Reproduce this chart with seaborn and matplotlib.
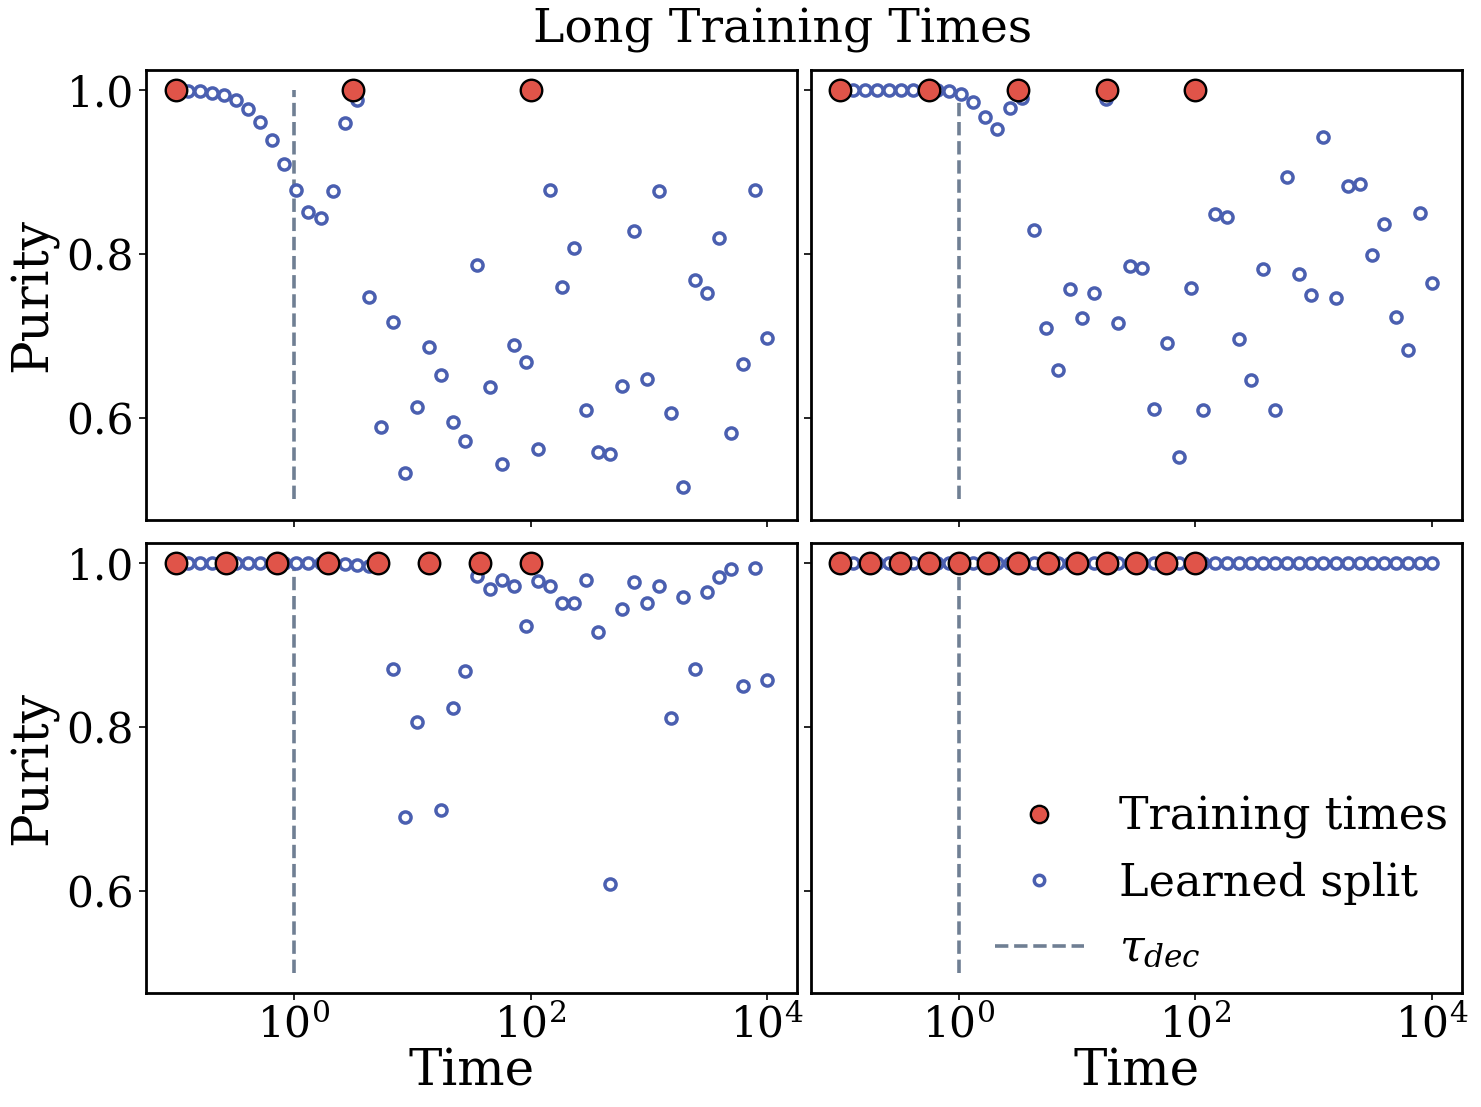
import numpy as np
import pandas as pd
import matplotlib
matplotlib.use("Agg")
import matplotlib.pyplot as plt
import seaborn as sns
from matplotlib.lines import Line2D

# ---------------- data ----------------
split_times = np.logspace(-1, 4, 50)

purity_a = [1.0, 0.9996, 0.9985, 0.997, 0.994, 0.988, 0.977, 0.9615, 0.9395, 0.910,
            0.878, 0.851, 0.844, 0.877, 0.960, 0.9875, 0.747, 0.5886, 0.7166, 0.532,
            0.6127, 0.686, 0.652, 0.5944, 0.5715, 0.786, 0.637, 0.543, 0.6885, 0.668,
            0.5614, 0.878, 0.7594, 0.807, 0.609, 0.5577, 0.5553, 0.6384, 0.828, 0.647,
            0.8768, 0.6057, 0.515, 0.768, 0.752, 0.819, 0.581, 0.665, 0.878, 0.697]

purity_b = [1.0, 1.0, 1.0, 1.0, 1.0, 1.0, 1.0, 1.0, 1.0, 0.9985,
            0.9953, 0.9856, 0.967, 0.953, 0.978, 0.991, 0.829, 0.709, 0.658, 0.757,
            0.7215, 0.752, 0.9888, 0.7154, 0.785, 0.7826, 0.610, 0.691, 0.552, 0.758,
            0.609, 0.849, 0.8454, 0.696, 0.646, 0.7814, 0.609, 0.894, 0.7753, 0.7496,
            0.9428, 0.746, 0.883, 0.8853, 0.7985, 0.8364, 0.7227, 0.6824, 0.850, 0.7643]

purity_c = [1.0, 1.0, 1.0, 1.0, 1.0, 1.0, 1.0, 1.0, 1.0, 1.0,
            1.0, 1.0, 1.0, 1.0, 0.999, 0.998, 0.997, 1.0, 0.8704, 0.6895,
            0.8056, 1.0, 0.698, 0.823, 0.869, 0.985, 0.9686, 0.9796, 0.9722, 0.923,
            0.978, 0.9722, 0.951, 0.951, 0.9796, 0.9156, 0.6076, 0.944, 0.9768, 0.951,
            0.9722, 0.8105, 0.9584, 0.8704, 0.9645, 0.983, 0.9927, 0.8496, 0.9939, 0.857]

purity_d = [1.0] * 50

train_a = [0.1, 3.162, 100.0]
train_b = [0.1, 0.5623, 3.162, 17.78, 100.0]
train_c = [0.1, 0.2683, 0.7197, 1.931, 5.179, 13.89, 37.28, 100.0]
train_d = [0.1, 0.1778, 0.3162, 0.5623, 1.0, 1.778, 3.162, 5.623, 10.0,
           17.78, 31.62, 56.23, 100.0]
train_purity = 1.0

tau_dec = 1.0
tau_ymin, tau_ymax = 0.5, 1.0

panels = [(purity_a, train_a), (purity_b, train_b),
          (purity_c, train_c), (purity_d, train_d)]

# ---------------- style ----------------
sns.set_style("ticks")
plt.rcParams["font.family"] = ["DejaVu Serif"]
plt.rcParams["mathtext.fontset"] = "dejavuserif"
plt.rcParams["axes.linewidth"] = 2.0
plt.rcParams["text.color"] = "black"
plt.rcParams["axes.labelcolor"] = "black"
plt.rcParams["xtick.color"] = "black"
plt.rcParams["ytick.color"] = "black"
plt.rcParams["axes.edgecolor"] = "black"

RED = "#e05449"
BLUE = "#4a5fb0"
DASH = "#6f7f93"

fig, axes = plt.subplots(2, 2, figsize=(14.81, 11.07), dpi=100,
                         sharex=True, sharey=True)
fig.subplots_adjust(left=0.0986, right=0.987, bottom=0.103, top=0.937,
                    wspace=0.0215, hspace=0.051)

for ax, (pur, train) in zip(axes.flat, panels):
    df_split = pd.DataFrame({"time": split_times, "purity": pur})
    df_train = pd.DataFrame({"time": train, "purity": [train_purity] * len(train)})
    ax.vlines(tau_dec, tau_ymin, tau_ymax, colors=DASH, linestyles="--",
              linewidth=2.6, label=r"$\tau_{dec}$", zorder=1)
    sns.scatterplot(data=df_split, x="time", y="purity", ax=ax, s=64,
                    color="white", edgecolor=BLUE, linewidth=2.5,
                    label="Learned split", zorder=2, legend=False)
    sns.scatterplot(data=df_train, x="time", y="purity", ax=ax, s=240,
                    color=RED, edgecolor="black", linewidth=1.7,
                    label="Training times", zorder=3, legend=False)
    ax.set_xscale("log")
    ax.set_xlabel("")
    ax.set_ylabel("")
    ax.minorticks_off()
    ax.tick_params(axis="both", which="major", labelsize=30.5, length=5, width=1.2,
                   colors="black")
    for sp in ax.spines.values():
        sp.set_linewidth(2.0)
        sp.set_color("black")

axes[0, 0].set_xlim(10 ** -1.25, 10 ** 4.25)
axes[0, 0].set_ylim(0.475, 1.025)
axes[0, 0].set_yticks([0.6, 0.8, 1.0])
axes[0, 0].set_xticks([1, 100, 10000])
for ax in axes.flat:
    ax.xaxis.set_minor_locator(matplotlib.ticker.NullLocator())

for ax in axes[:, 0]:
    ax.set_ylabel("Purity", fontsize=36, labelpad=6)
for ax in axes[1, :]:
    ax.set_xlabel("Time", fontsize=36, labelpad=0)

ax = axes[1, 1]
handles = [
    Line2D([], [], marker="o", linestyle="none", markersize=12.5,
           markerfacecolor=RED, markeredgecolor="black", markeredgewidth=1.7),
    Line2D([], [], marker="o", linestyle="none", markersize=7.5,
           markerfacecolor="white", markeredgecolor=BLUE, markeredgewidth=2.5),
    Line2D([], [], color=DASH, linestyle="--", linewidth=2.6),
]
ax.legend(handles, ["Training times", "Learned split", r"$\tau_{dec}$"],
          loc="lower right", bbox_to_anchor=(1.003, 0.016), fontsize=32,
          frameon=False, borderaxespad=0.0, borderpad=0.35)

fig.suptitle("Long Training Times", fontsize=34, x=0.5285, y=0.973, va="center")

fig.savefig("out.png", dpi=100)
